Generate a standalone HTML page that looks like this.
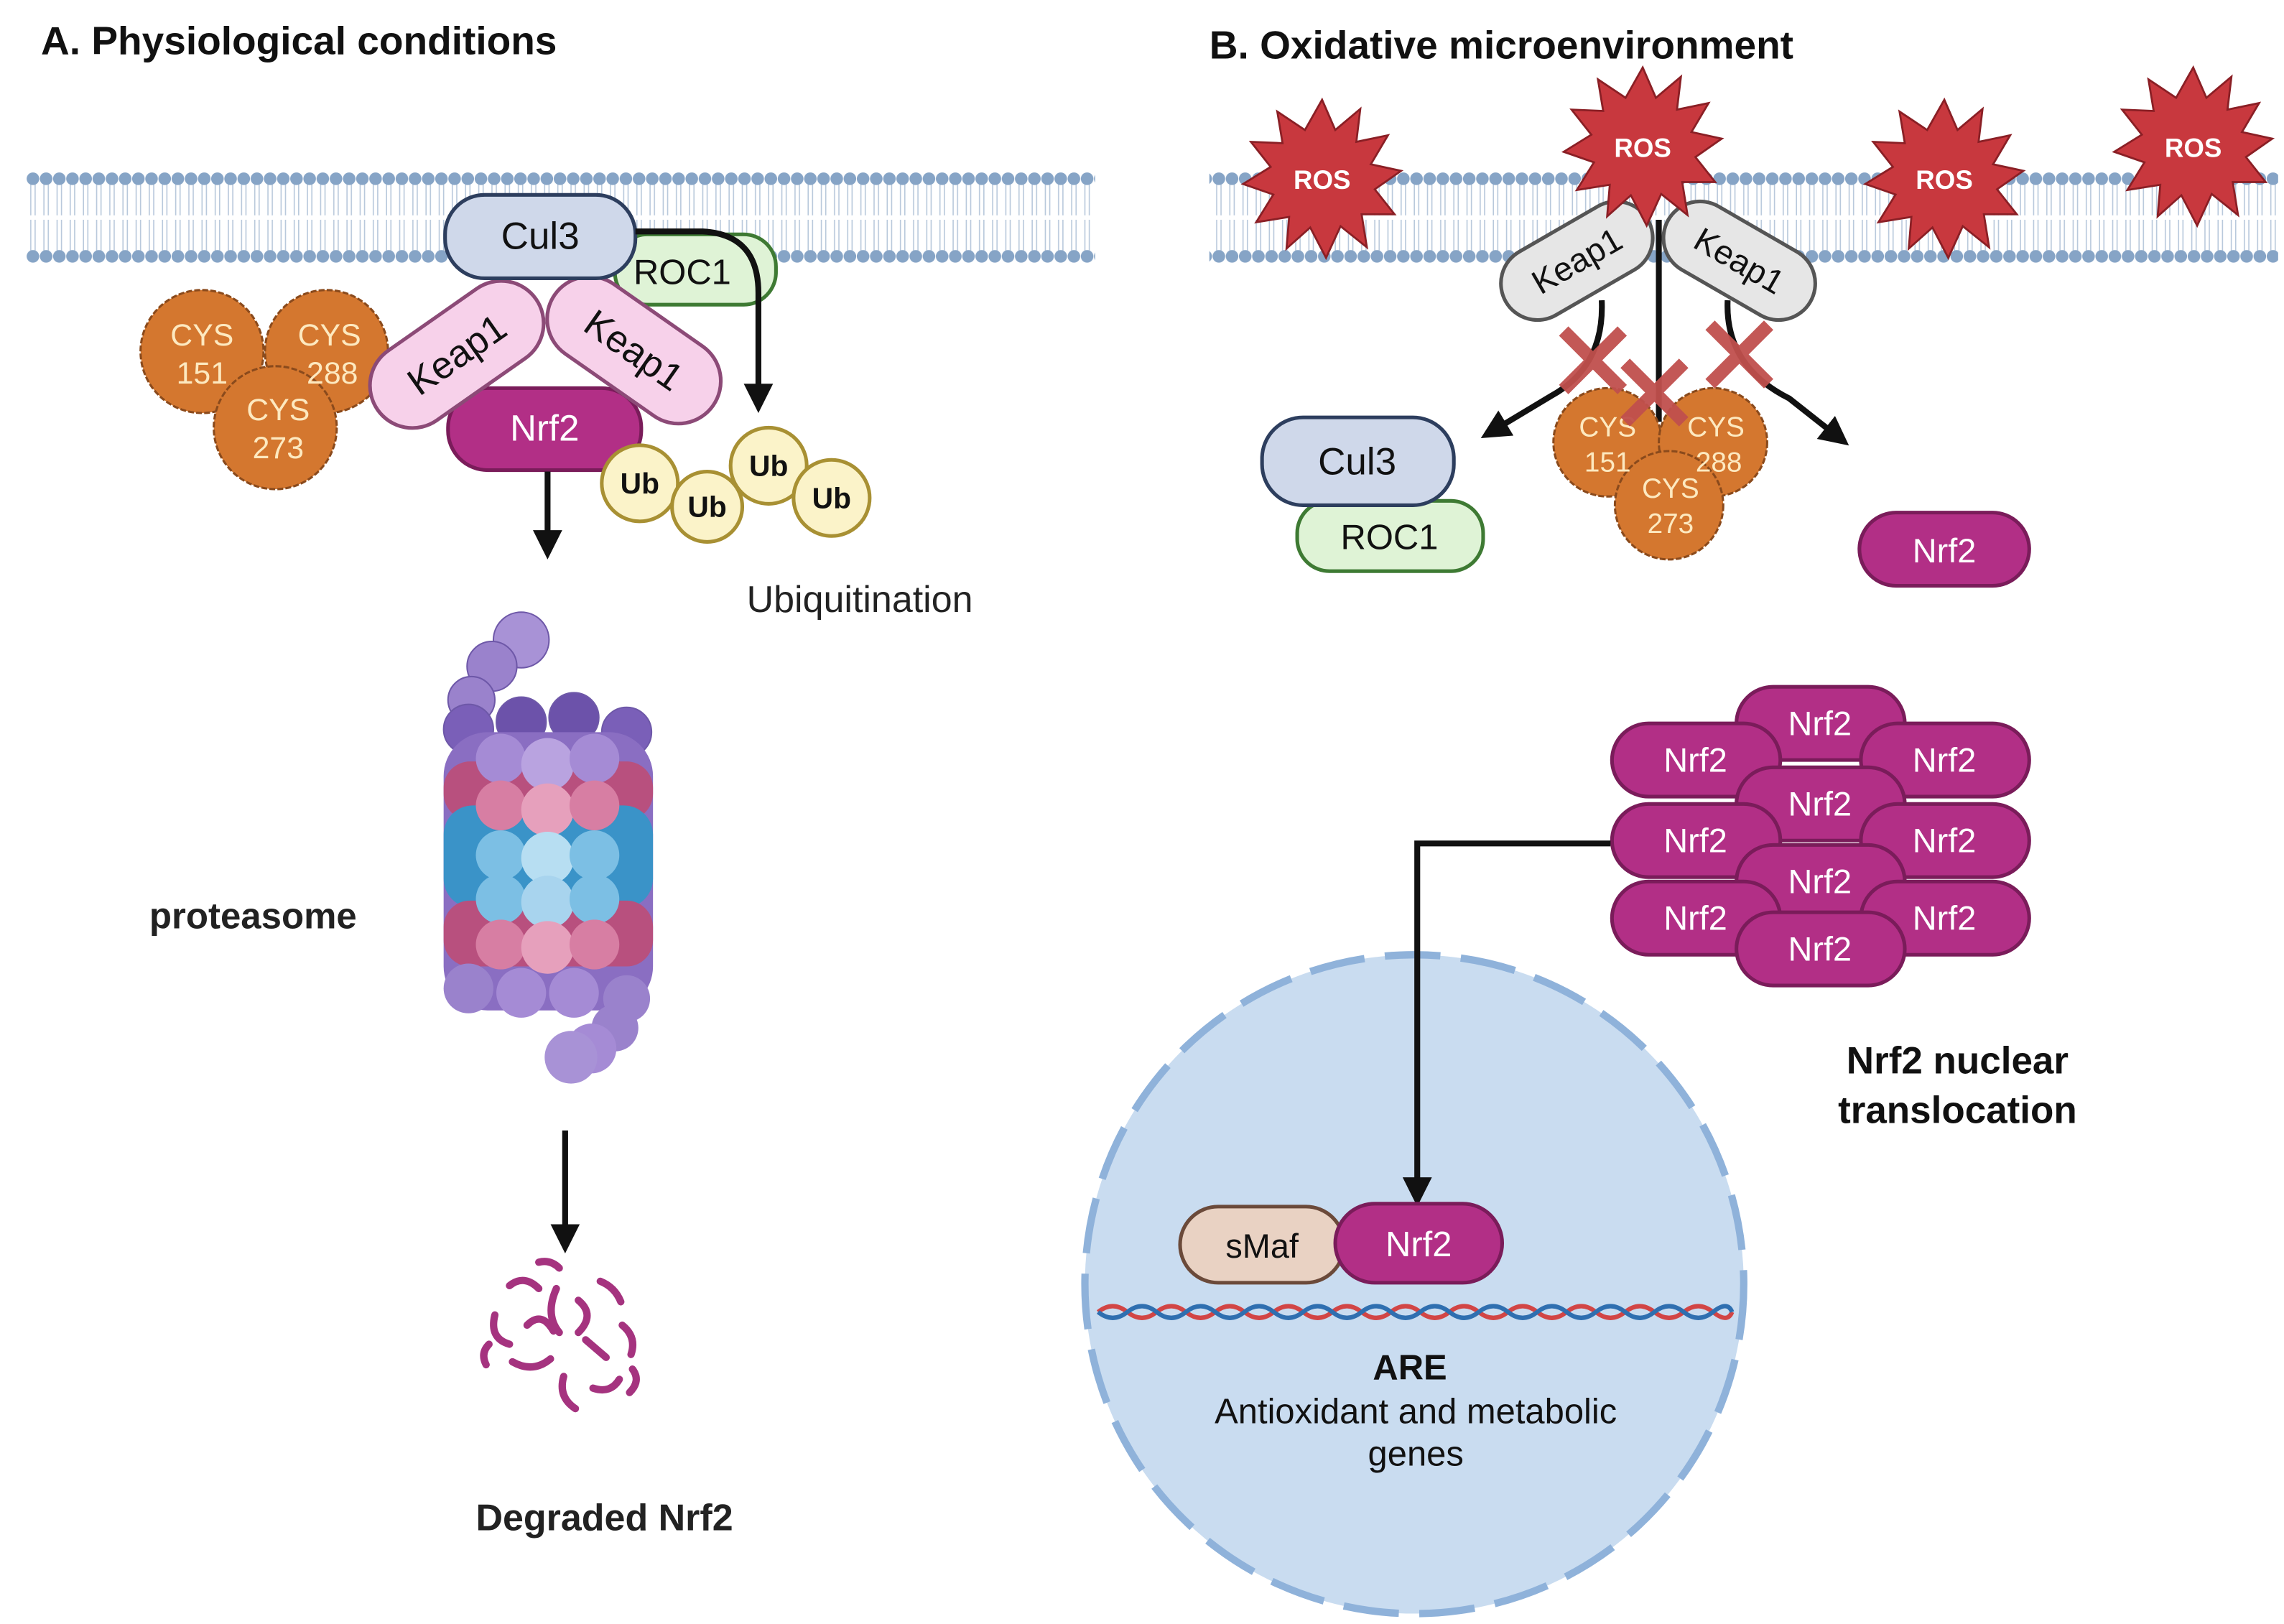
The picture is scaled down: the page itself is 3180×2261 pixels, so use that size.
<!DOCTYPE html>
<html><head><meta charset="utf-8"><style>
html,body{margin:0;padding:0;background:#fff;}
svg{display:block;}
text{font-family:"Liberation Sans",sans-serif;}
</style></head><body>
<svg width="3180" height="2261" viewBox="0 0 1560 1109" xmlns="http://www.w3.org/2000/svg">
<defs>
<pattern id="mem" x="18" y="0" width="9" height="300" patternUnits="userSpaceOnUse">
<line x1="3" y1="124" x2="3" y2="147" stroke="#b9c9dc" stroke-width="0.8"/>
<line x1="6" y1="124" x2="6" y2="147" stroke="#b9c9dc" stroke-width="0.8"/>
<line x1="3" y1="150" x2="3" y2="173" stroke="#b9c9dc" stroke-width="0.8"/>
<line x1="6" y1="150" x2="6" y2="173" stroke="#b9c9dc" stroke-width="0.8"/>
<circle cx="4.5" cy="122" r="4.3" fill="#86a4c6"/>
<circle cx="4.5" cy="175" r="4.3" fill="#86a4c6"/>
</pattern>
<marker id="ah" markerWidth="5" markerHeight="5" refX="2.5" refY="2.5" orient="auto" markerUnits="strokeWidth">
<path d="M0,0 L5,2.5 L0,5 z" fill="#111"/></marker>
</defs>
<rect width="1560" height="1109" fill="#fff"/>
<text x="28" y="37" font-size="27" font-weight="bold" fill="#111">A. Physiological conditions</text>
<text x="826" y="40" font-size="27" font-weight="bold" fill="#111">B. Oxidative microenvironment</text>
<rect x="18" y="110" width="730" height="75" fill="url(#mem)"/>
<rect x="826" y="110" width="730" height="75" fill="url(#mem)"/>

<g stroke-width="1.5">
<circle cx="138" cy="240" r="42" fill="#d4772f" stroke="#8a4a1c" stroke-dasharray="4 1.5"/>
<circle cx="223" cy="240" r="42" fill="#d4772f" stroke="#8a4a1c" stroke-dasharray="4 1.5"/>
<circle cx="188" cy="292" r="42" fill="#d4772f" stroke="#8a4a1c" stroke-dasharray="4 1.5"/>
</g>
<g font-size="21" fill="#fde9c0" text-anchor="middle">
<text x="138" y="236">CYS</text><text x="138" y="262">151</text>
<text x="225" y="236">CYS</text><text x="227" y="262">288</text>
<text x="190" y="287">CYS</text><text x="190" y="313">273</text>
</g>
<rect x="420" y="160" width="110" height="48" rx="22" fill="#dff3d6" stroke="#3e7a33" stroke-width="2.5"/>
<text x="466" y="194" font-size="24" text-anchor="middle" fill="#111">ROC1</text>
<rect x="306" y="265" width="132" height="56" rx="27" fill="#b22f86" stroke="#7a1c5a" stroke-width="2.5"/>
<text x="372" y="301" font-size="25" text-anchor="middle" fill="#fff">Nrf2</text>
<g transform="translate(312,242) rotate(-35)">
<rect x="-66" y="-29" width="132" height="58" rx="29" fill="#f7d1ea" stroke="#8c4a77" stroke-width="2.5"/>
<text x="0" y="9" font-size="26" text-anchor="middle" fill="#111">Keap1</text></g>
<g transform="translate(433,239) rotate(35)">
<rect x="-66" y="-29" width="132" height="58" rx="29" fill="#f7d1ea" stroke="#8c4a77" stroke-width="2.5"/>
<text x="0" y="9" font-size="26" text-anchor="middle" fill="#111">Keap1</text></g>
<rect x="304" y="133" width="130" height="57" rx="27" fill="#cfd8ea" stroke="#2d3e5e" stroke-width="2.5"/>
<text x="369" y="170" font-size="26" text-anchor="middle" fill="#111">Cul3</text>
<path d="M434,158 L480,158 Q518,160 518,200 L518,272" fill="none" stroke="#111" stroke-width="4" marker-end="url(#ah)"/>
<g stroke="#a89033" stroke-width="2.5" fill="#fbf3c9">
<circle cx="437" cy="330" r="26"/><circle cx="483" cy="346" r="24"/><circle cx="525" cy="318" r="26"/><circle cx="568" cy="340" r="26"/>
</g>
<g font-size="20" font-weight="bold" text-anchor="middle" fill="#111">
<text x="437" y="337">Ub</text><text x="483" y="353">Ub</text><text x="525" y="325">Ub</text><text x="568" y="347">Ub</text></g>
<text x="510" y="418" font-size="25.5" fill="#222">Ubiquitination</text>
<line x1="374" y1="322" x2="374" y2="372" stroke="#111" stroke-width="4" marker-end="url(#ah)"/>
<g stroke="#6e58a8" stroke-width="1">
<circle cx="356" cy="437" r="19" fill="#a892d6"/><circle cx="336" cy="455" r="17" fill="#9a82cc"/><circle cx="322" cy="478" r="16" fill="#9a82cc"/>
<circle cx="320" cy="498" r="17" fill="#7a5fb8"/><circle cx="356" cy="493" r="17" fill="#6c52aa"/><circle cx="392" cy="490" r="17" fill="#6c52aa"/><circle cx="428" cy="500" r="17" fill="#7a5fb8"/>
</g>
<g>
<rect x="303" y="500" width="143" height="190" rx="30" fill="#8a6ec2"/>
<rect x="303" y="520" width="143" height="40" rx="18" fill="#b8507e"/>
<rect x="303" y="550" width="143" height="70" rx="20" fill="#3a93c8"/>
<rect x="303" y="615" width="143" height="45" rx="18" fill="#b8507e"/>
<circle cx="342" cy="518" r="17" fill="#a58bd5"/><circle cx="374" cy="522" r="18" fill="#b9a3e0"/><circle cx="406" cy="518" r="17" fill="#a58bd5"/>
<circle cx="342" cy="550" r="17" fill="#d77ea3"/><circle cx="374" cy="553" r="18" fill="#e6a0bc"/><circle cx="406" cy="550" r="17" fill="#d77ea3"/>
<circle cx="342" cy="584" r="17" fill="#7cbfe4"/><circle cx="374" cy="586" r="18" fill="#b7def2"/><circle cx="406" cy="584" r="17" fill="#7cbfe4"/>
<circle cx="342" cy="614" r="17" fill="#7cbfe4"/><circle cx="374" cy="616" r="18" fill="#a8d4ee"/><circle cx="406" cy="614" r="17" fill="#7cbfe4"/>
<circle cx="342" cy="645" r="17" fill="#d77ea3"/><circle cx="374" cy="647" r="18" fill="#e6a0bc"/><circle cx="406" cy="645" r="17" fill="#d77ea3"/>
<circle cx="320" cy="675" r="17" fill="#9a82cc"/><circle cx="356" cy="678" r="17" fill="#a58bd5"/><circle cx="392" cy="678" r="17" fill="#a58bd5"/><circle cx="428" cy="682" r="16" fill="#9a82cc"/>
<circle cx="420" cy="702" r="16" fill="#9a82cc"/><circle cx="404" cy="716" r="17" fill="#a58bd5"/><circle cx="390" cy="722" r="18" fill="#a892d6"/>
</g>
<text x="102" y="634" font-size="25" font-weight="bold" fill="#222">proteasome</text>
<line x1="386" y1="772" x2="386" y2="846" stroke="#111" stroke-width="4" marker-end="url(#ah)"/>
<g fill="none" stroke="#a5337f" stroke-width="5" stroke-linecap="round">
<path d="M348,878 q10,-8 20,2"/><path d="M338,898 q-4,16 10,20"/><path d="M360,905 q10,-10 18,4"/><path d="M380,880 q-8,18 2,30"/>
<path d="M395,888 q12,10 0,22"/><path d="M410,875 q10,4 14,14"/><path d="M400,915 l14,12"/><path d="M425,905 q10,8 6,20"/>
<path d="M350,930 q14,8 26,-2"/><path d="M385,940 q-4,14 8,22"/><path d="M405,948 q12,4 18,-6"/><path d="M432,935 q6,8 -2,16"/>
<path d="M368,862 q8,-2 14,4"/><path d="M334,918 q-6,6 -2,14"/>
</g>
<text x="325" y="1045" font-size="25.5" font-weight="bold" fill="#222">Degraded Nrf2</text>

<path d="M1133,150 L1133,288" stroke="#111" stroke-width="4"/>
<path d="M1094,205 Q1096,250 1060,270 L1020,294" fill="none" stroke="#111" stroke-width="4" marker-end="url(#ah)"/>
<path d="M1180,205 Q1178,250 1222,272 L1255,298" fill="none" stroke="#111" stroke-width="4" marker-end="url(#ah)"/>
<g transform="translate(1077,178) rotate(-30)">
<rect x="-56" y="-25" width="112" height="50" rx="25" fill="#e6e6e6" stroke="#555" stroke-width="2.5"/>
<text x="0" y="8" font-size="23" text-anchor="middle" fill="#111">Keap1</text></g>
<g transform="translate(1188,178) rotate(30)">
<rect x="-56" y="-25" width="112" height="50" rx="25" fill="#e6e6e6" stroke="#555" stroke-width="2.5"/>
<text x="0" y="8" font-size="23" text-anchor="middle" fill="#111">Keap1</text></g>
<g stroke-width="1.5">
<circle cx="1098" cy="302" r="37" fill="#d4772f" stroke="#8a4a1c" stroke-dasharray="4 1.5"/>
<circle cx="1170" cy="302" r="37" fill="#d4772f" stroke="#8a4a1c" stroke-dasharray="4 1.5"/>
<circle cx="1140" cy="345" r="37" fill="#d4772f" stroke="#8a4a1c" stroke-dasharray="4 1.5"/>
</g>
<g font-size="19" fill="#fde9c0" text-anchor="middle">
<text x="1098" y="298">CYS</text><text x="1098" y="322">151</text>
<text x="1172" y="298">CYS</text><text x="1174" y="322">288</text>
<text x="1141" y="340">CYS</text><text x="1141" y="364">273</text>
</g>
<g stroke="#c0504d" stroke-width="9" opacity="0.95">
<path d="M1068,226 L1108,266 M1108,226 L1068,266"/>
<path d="M1110,248 L1150,288 M1150,248 L1110,288"/>
<path d="M1168,222 L1208,262 M1208,222 L1168,262"/>
</g>
<rect x="886" y="342" width="127" height="48" rx="22" fill="#dff3d6" stroke="#3e7a33" stroke-width="2.5"/>
<text x="949" y="375" font-size="24" text-anchor="middle" fill="#111">ROC1</text>
<rect x="862" y="285" width="131" height="60" rx="28" fill="#cfd8ea" stroke="#2d3e5e" stroke-width="2.5"/>
<text x="927" y="324" font-size="26" text-anchor="middle" fill="#111">Cul3</text>
<rect x="1270" y="350" width="116" height="50" rx="25" fill="#b22f86" stroke="#7a1c5a" stroke-width="2.5"/>
<text x="1328" y="384" font-size="23" text-anchor="middle" fill="#fff">Nrf2</text>

<g fill="#c8383e" stroke="#8a1f25" stroke-width="1.5">
<polygon transform="translate(903,122) scale(0.9)" points="0,-60 10,-37 29,-53 26,-28 50,-33 37,-11 60,-6 40,8 55,27 30,27 34,52 14,36 3,60 -9,37 -27,53 -25,29 -50,33 -37,12 -60,4 -39,-9 -54,-28 -30,-27 -34,-51 -13,-37"/>
<polygon transform="translate(1122,100) scale(0.9)" points="0,-60 10,-37 29,-53 26,-28 50,-33 37,-11 60,-6 40,8 55,27 30,27 34,52 14,36 3,60 -9,37 -27,53 -25,29 -50,33 -37,12 -60,4 -39,-9 -54,-28 -30,-27 -34,-51 -13,-37"/>
<polygon transform="translate(1328,122) scale(0.9)" points="0,-60 10,-37 29,-53 26,-28 50,-33 37,-11 60,-6 40,8 55,27 30,27 34,52 14,36 3,60 -9,37 -27,53 -25,29 -50,33 -37,12 -60,4 -39,-9 -54,-28 -30,-27 -34,-51 -13,-37"/>
<polygon transform="translate(1498,100) scale(0.9)" points="0,-60 10,-37 29,-53 26,-28 50,-33 37,-11 60,-6 40,8 55,27 30,27 34,52 14,36 3,60 -9,37 -27,53 -25,29 -50,33 -37,12 -60,4 -39,-9 -54,-28 -30,-27 -34,-51 -13,-37"/>
</g>
<g font-size="18" font-weight="bold" fill="#fff" text-anchor="middle">
<text x="903" y="129">ROS</text><text x="1122" y="107">ROS</text><text x="1328" y="129">ROS</text><text x="1498" y="107">ROS</text></g>

<g stroke="#7a1c5a" stroke-width="2.5" fill="#b22f86">
<rect x="1186" y="469" width="115" height="50" rx="25"/>
<rect x="1101" y="494" width="115" height="50" rx="25"/>
<rect x="1271" y="494" width="115" height="50" rx="25"/>
<rect x="1186" y="524" width="115" height="50" rx="25"/>
<rect x="1101" y="549" width="115" height="50" rx="25"/>
<rect x="1271" y="549" width="115" height="50" rx="25"/>
<rect x="1186" y="577" width="115" height="50" rx="25"/>
<rect x="1101" y="602" width="115" height="50" rx="25"/>
<rect x="1271" y="602" width="115" height="50" rx="25"/>
<rect x="1186" y="623" width="115" height="50" rx="25"/>
</g>
<g font-size="23" fill="#fff" text-anchor="middle">
<text x="1243" y="502">Nrf2</text><text x="1158" y="527">Nrf2</text><text x="1328" y="527">Nrf2</text>
<text x="1243" y="557">Nrf2</text><text x="1158" y="582">Nrf2</text><text x="1328" y="582">Nrf2</text>
<text x="1243" y="610">Nrf2</text><text x="1158" y="635">Nrf2</text><text x="1328" y="635">Nrf2</text>
<text x="1243" y="656">Nrf2</text></g>
<text x="1337" y="733" font-size="26" font-weight="bold" text-anchor="middle" fill="#111">Nrf2 nuclear</text>
<text x="1337" y="767" font-size="26" font-weight="bold" text-anchor="middle" fill="#111">translocation</text>

<circle cx="966" cy="877" r="225" fill="#c9dcf0" stroke="#8fb2da" stroke-width="5" stroke-dasharray="38 14"/>
<path d="M1100,576 L968,576 L968,814" fill="none" stroke="#111" stroke-width="4" marker-end="url(#ah)"/>
<path d="M750,896 Q760,888 770,896 T790,896 T810,896 T830,896 T850,896 T870,896 T890,896 T910,896 T930,896 T950,896 T970,896 T990,896 T1010,896 T1030,896 T1050,896 T1070,896 T1090,896 T1110,896 T1130,896 T1150,896 T1170,896 T1183,896" fill="none" stroke="#d24545" stroke-width="3"/>
<path d="M750,896 Q760,904 770,896 T790,896 T810,896 T830,896 T850,896 T870,896 T890,896 T910,896 T930,896 T950,896 T970,896 T990,896 T1010,896 T1030,896 T1050,896 T1070,896 T1090,896 T1110,896 T1130,896 T1150,896 T1170,896 T1183,896" fill="none" stroke="#2f6fb0" stroke-width="3"/>
<rect x="806" y="824" width="112" height="52" rx="26" fill="#e9d2c3" stroke="#6b4a3a" stroke-width="2.5"/>
<text x="862" y="859" font-size="23" text-anchor="middle" fill="#111">sMaf</text>
<rect x="912" y="822" width="114" height="54" rx="27" fill="#b22f86" stroke="#7a1c5a" stroke-width="2.5"/>
<text x="969" y="858" font-size="24" text-anchor="middle" fill="#fff">Nrf2</text>
<text x="963" y="942" font-size="24" font-weight="bold" text-anchor="middle" fill="#111">ARE</text>
<text x="967" y="972" font-size="24" text-anchor="middle" fill="#111">Antioxidant and metabolic</text>
<text x="967" y="1001" font-size="24" text-anchor="middle" fill="#111">genes</text>
</svg>
</body></html>
